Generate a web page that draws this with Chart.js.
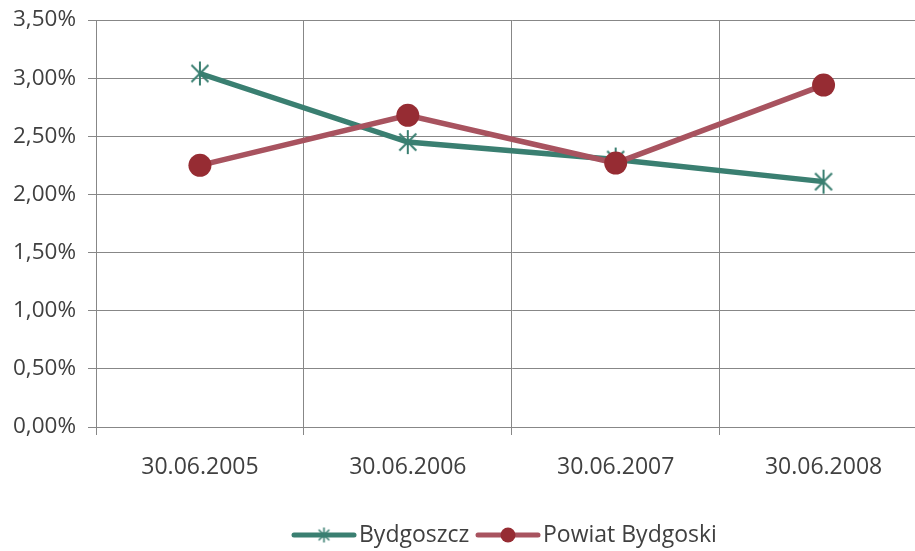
<!DOCTYPE html>
<html>
<head>
<meta charset="utf-8">
<script src="https://cdn.jsdelivr.net/npm/chart.js@4/dist/chart.umd.min.js"></script>
<style>
html,body{margin:0;padding:0;overflow:hidden;background:#fff;width:915px;height:551px;}
#wrap{width:915px;height:551px;overflow:hidden;position:relative;}
#c{position:absolute;left:0;top:0;}
</style>
</head>
<body>
<div id="wrap"><canvas id="c" width="946" height="551"></canvas></div>
<script>
const categories = ["30.06.2005", "30.06.2006", "30.06.2007", "30.06.2008"];
const bydgoszcz = [3.04, 2.45, 2.30, 2.11];
const powiat = [2.25, 2.68, 2.27, 2.94];
const seriesNames = ["Bydgoszcz", "Powiat Bydgoski"];
const yTicks = [0, 0.5, 1, 1.5, 2, 2.5, 3, 3.5];

const GREEN = "#3A7F71";
const RED_LINE = "#A8535F";
const RED_DOT = "#962C33";
const GRID = "#878787";
const TEXT = "#404040";
const FONT = "'Open Sans', sans-serif";

function makeAsterisk(size, lw, color) {
  const c = document.createElement("canvas");
  c.width = size; c.height = size;
  const g = c.getContext("2d");
  g.strokeStyle = color; g.lineWidth = lw;
  const m = size / 2, r = size / 2 - 1, d = r * Math.SQRT1_2;
  g.beginPath();
  g.moveTo(m - d, m - d); g.lineTo(m + d, m + d);
  g.moveTo(m + d, m - d); g.lineTo(m - d, m + d);
  g.moveTo(m, m - r); g.lineTo(m, m + r);
  g.stroke();
  return c;
}
const star = makeAsterisk(26, 2, GREEN);
const starSmall = makeAsterisk(17, 1.6, GREEN);

const legendPlugin = {
  id: "customLegend",
  afterDraw(chart) {
    const ctx = chart.ctx;
    ctx.save();
    ctx.font = "23px " + FONT;
    const lineLen = 60, gap = 5;
    let x = 294;
    const y = 535;
    ctx.strokeStyle = GREEN; ctx.lineWidth = 5; ctx.lineCap = "round";
    ctx.beginPath(); ctx.moveTo(x, y); ctx.lineTo(x + lineLen, y); ctx.stroke();
    ctx.drawImage(starSmall, x + lineLen / 2 - 8.5, y - 8.5);
    ctx.fillStyle = TEXT; ctx.textBaseline = "middle"; ctx.textAlign = "left";
    ctx.fillText(seriesNames[0], x + lineLen + gap, y);
    x = 478;
    ctx.strokeStyle = RED_LINE;
    ctx.beginPath(); ctx.moveTo(x, y); ctx.lineTo(x + lineLen, y); ctx.stroke();
    ctx.fillStyle = RED_DOT;
    ctx.beginPath(); ctx.arc(x + lineLen / 2, y, 7.5, 0, Math.PI * 2); ctx.fill();
    ctx.fillStyle = TEXT;
    ctx.fillText(seriesNames[1], x + lineLen + gap, y);
    ctx.restore();
  }
};

new Chart(document.getElementById("c"), {
  type: "line",
  data: {
    labels: categories,
    datasets: [
      {
        label: seriesNames[0], data: bydgoszcz, order: 1,
        borderColor: GREEN, borderWidth: 5.5, tension: 0,
        pointStyle: star, pointRadius: 13,
        pointBackgroundColor: GREEN, pointBorderColor: GREEN
      },
      {
        label: seriesNames[1], data: powiat, order: 0,
        borderColor: RED_LINE, borderWidth: 5.5, tension: 0,
        pointStyle: "circle", pointRadius: 11.5, pointBorderWidth: 0,
        pointBackgroundColor: RED_DOT, pointBorderColor: RED_DOT
      }
    ]
  },
  options: {
    responsive: false,
    animation: false,
    events: [],
    layout: { padding: { top: 20, right: 0, left: 0, bottom: 60 } },
    plugins: { legend: { display: false }, tooltip: { enabled: false } },
    scales: {
      x: {
        offset: true,
        grid: { offset: true, color: GRID, lineWidth: 1, tickLength: 8, drawTicks: true },
        border: { color: GRID, width: 1 },
        ticks: { color: TEXT, font: { family: FONT, size: 23 }, padding: 19, maxRotation: 0 },
        afterFit(s) { s.height = 64; s.paddingLeft = 0; s.paddingRight = 0; }
      },
      y: {
        min: 0, max: 3.5,
        afterBuildTicks(s) { s.ticks = yTicks.map(v => ({ value: v })); },
        grid: { color: GRID, lineWidth: 1, tickLength: 8 },
        border: { color: GRID, width: 1 },
        ticks: {
          color: TEXT, font: { family: FONT, size: 22.5 }, padding: 12,
          callback: v => v.toFixed(2).replace(".", ",") + "%"
        },
        afterFit(s) { s.width = 96; s.paddingTop = 0; s.paddingBottom = 0; }
      }
    }
  },
  plugins: [legendPlugin]
});
</script>
</body>
</html>
